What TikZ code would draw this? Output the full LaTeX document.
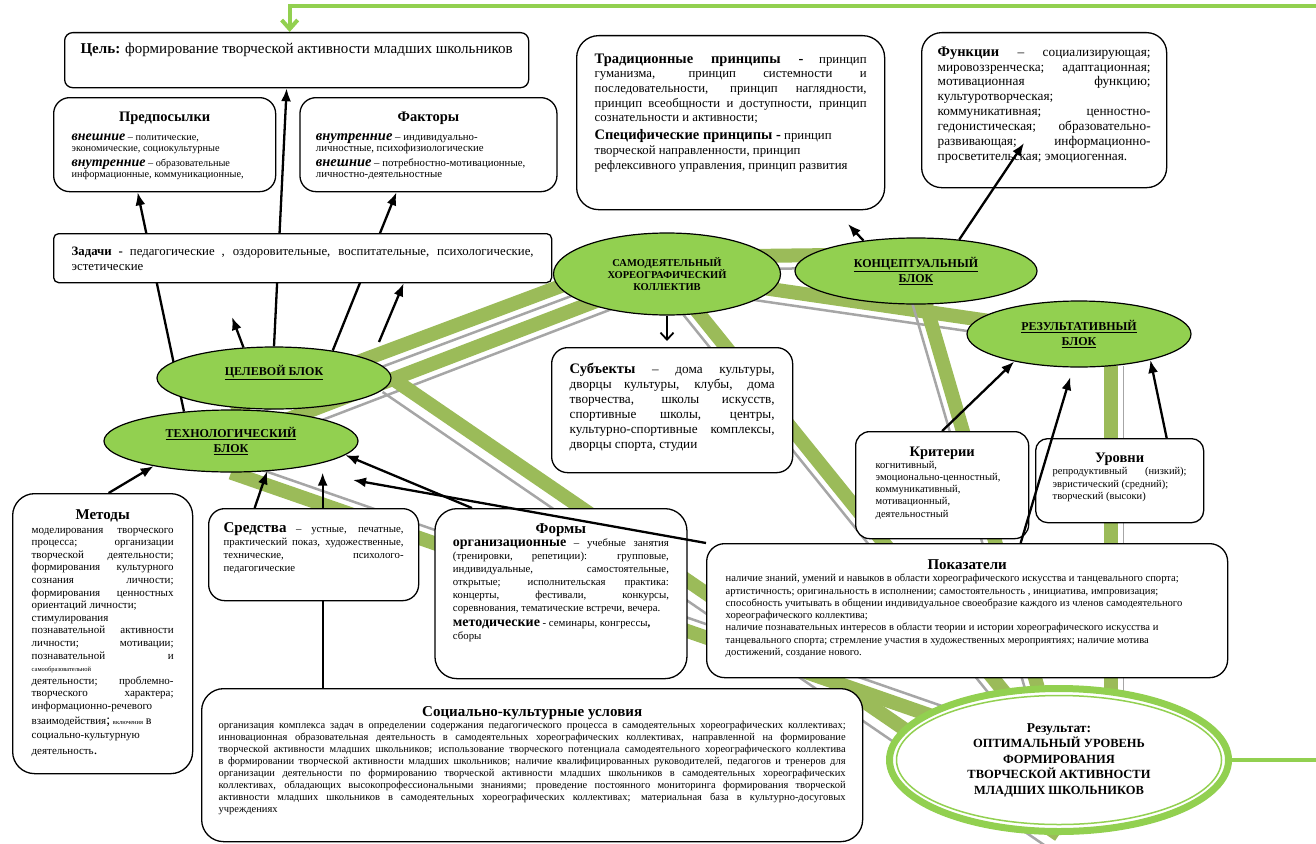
\documentclass[tikz,border=0pt]{standalone}
\usepackage{fontspec}
\setmainfont{Liberation Serif}
\usetikzlibrary{shapes.geometric,arrows,arrows.meta,positioning}
\pgfdeclarelayer{background}
\pgfdeclarelayer{links}
\pgfsetlayers{background,links,main}
\definecolor{leaf}{HTML}{92D050}
\definecolor{olive}{HTML}{9BBB59}
\definecolor{railgrey}{HTML}{A6A6A6}
\newcommand{\txtsize}[2]{\fontsize{#1}{#2}\selectfont}
\newcommand{\boxtext}[3]{\parbox[c][#2][t]{#1}{#3}}
\tolerance=10000
\hbadness=10000
\vbadness=10000

\begin{document}
\begin{tikzpicture}[x=1pt,y=-1pt,>={Latex[length=13pt,width=10pt]},
  infobox/.style={draw, line width=1.3pt, fill=white, rounded corners=16pt, anchor=north west},
  blk/.style={ellipse, draw, line width=1.2pt, fill=leaf, inner sep=0pt, align=center, font=\bfseries\txtsize{12}{15}},
  arr/.style={->, line width=2.3pt},
  band/.style={line width=14pt, olive},
  railline/.style={line width=2.5pt, railgrey},
  feedback/.style={line width=4pt, leaf}]
  \useasboundingbox (0,0) rectangle (1316,843);

  % upper boxes
  \node[infobox, rounded corners=8pt, inner xsep=10pt, inner ysep=10pt] (goal) at (64,32)
    {\boxtext{444pt}{35pt}{\centering\txtsize{15}{17}\textbf{Цель:} формирование творческой активности младших школьников}};
  \node[infobox, inner xsep=18pt, inner ysep=14pt] (prereq) at (53,97)
    {\boxtext{186pt}{66pt}{{\centering\txtsize{14.5}{16}\bfseries Предпосылки\par}\vspace{8pt}
     \txtsize{10.3}{11}{\txtsize{14}{11}\bfseries\itshape внешние} – политические,\\ экономические, социокультурные\par\vspace{4pt}
     {\txtsize{14}{11}\bfseries\itshape внутренние} – образовательные\\ информационные, коммуникационные,}};
  \node[infobox, inner xsep=16pt, inner ysep=14pt, right=23pt of prereq.north east, anchor=north west] (factors)
    {\boxtext{225pt}{66pt}{{\centering\txtsize{14.5}{16}\bfseries Факторы\par}\vspace{8pt}
     \txtsize{10.8}{11}{\txtsize{14.5}{11}\bfseries\itshape внутренние} – индивидуально-\\ личностные, психофизиологические\par\vspace{4pt}
     {\txtsize{14.5}{11}\bfseries\itshape внешние} – потребностно-мотивационные,\\ личностно-деятельностные}};
  \node[infobox, rounded corners=5pt, inner xsep=18pt, inner ysep=13pt] (tasks) at (53,233)
    {\boxtext{462pt}{23pt}{\txtsize{12.8}{15}\textbf{Задачи -} педагогические , оздоровительные, воспитательные, психологические,\linebreak эстетические}};
  \node[infobox, rounded corners=22pt, inner xsep=18pt, inner ysep=18pt] (principles) at (576,35)
    {\boxtext{272pt}{138pt}{\txtsize{12.8}{14.7}{\txtsize{14.5}{14.7}\bfseries Традиционные принципы -} принцип\linebreak гуманизма, принцип системности и\linebreak последовательности, принцип наглядности,\linebreak принцип всеобщности и доступности, принцип\linebreak сознательности и активности;\par\vspace{3pt}
     {\txtsize{14.5}{14.7}\bfseries Специфические принципы -} принцип\\ творческой направленности, принцип\\ рефлексивного управления, принцип развития}};
  \node[infobox, rounded corners=20pt, inner xsep=16pt, inner ysep=14pt] (functions) at (921,32)
    {\boxtext{213pt}{127pt}{\txtsize{13.3}{14.9}{\txtsize{14.5}{14.9}\bfseries Функции} – социализирующая;\linebreak мировоззренческа; адаптационная;\linebreak мотивационная функцию;\linebreak культуротворческая;\\ коммуникативная; ценностно-\linebreak гедонистическая; образовательно-\linebreak развивающая; информационно-\linebreak просветительская; эмоциогенная.}};

  % blocks
  \node[blk, font=\bfseries\txtsize{10.5}{12}, minimum width=227pt, minimum height=82pt] (collective) at (667,274)
    {САМОДЕЯТЕЛЬНЫЙ\\ХОРЕОГРАФИЧЕСКИЙ\\КОЛЛЕКТИВ};
  \node[blk, minimum width=242pt, minimum height=66pt] (concept) at (916,271)
    {\underline{КОНЦЕПТУАЛЬНЫЙ}\\\underline{БЛОК}};
  \node[blk, minimum width=224pt, minimum height=66pt] (resblk) at (1079,334)
    {\underline{РЕЗУЛЬТАТИВНЫЙ}\\\underline{БЛОК}};
  \node[blk, minimum width=254pt, minimum height=62pt] (tech) at (231,441)
    {\underline{ТЕХНОЛОГИЧЕСКИЙ}\\\underline{БЛОК}};
  \node[blk, minimum width=234pt, minimum height=62pt] (goalblk) at (274,378)
    {\underline{ЦЕЛЕВОЙ БЛОК}\\\mbox{}};

  % middle boxes
  \node[infobox, inner xsep=18pt, inner ysep=15pt] (subjects) at (551,347)
    {\boxtext{205pt}{95pt}{\txtsize{13.2}{15}{\txtsize{14.5}{15}\bfseries Субъекты} – дома культуры,\linebreak дворцы культуры, клубы, дома\linebreak творчества, школы искусств,\linebreak спортивные школы, центры,\linebreak культурно-спортивные комплексы,\linebreak дворцы спорта, студии}};
  \node[infobox, rounded corners=14pt, inner xsep=20pt, inner ysep=15pt] (criteria) at (855,431)
    {\boxtext{133pt}{77pt}{{\centering\txtsize{14.5}{16}\bfseries Критерии\par}
     \txtsize{10.5}{12.2}когнитивный,\\ эмоционально-ценностный,\\ коммуникативный,\\ мотивационный,\\ деятельностный}};
  \node[infobox, rounded corners=12pt, inner xsep=17pt, inner ysep=14pt] (levels) at (1035,438)
    {\boxtext{134pt}{56pt}{{\centering\txtsize{14.5}{16}\bfseries Уровни\par}
     \txtsize{10.5}{12.5}репродуктивный (низкий);\linebreak эвристический (средний);\\ творческий (высоки)}};

  % lower boxes
  \node[infobox, rounded corners=22pt, inner xsep=19pt, inner ysep=16pt] (methods) at (12,493)
    {\boxtext{142pt}{248pt}{{\centering\txtsize{15}{16}\bfseries Методы\par}\vspace{1pt}
     \txtsize{11}{12.6}моделирования творческого\linebreak процесса; организации\linebreak творческой деятельности;\linebreak формирования культурного\linebreak сознания личности;\linebreak формирования ценностных\linebreak ориентаций личности;\\ стимулирования\\ познавательной активности\linebreak личности; мотивации;\linebreak познавательной и\linebreak {\txtsize{6.5}{7}самообразовательной}\\ деятельности; проблемно-\linebreak творческого характера;\linebreak информационно-речевого\\[2pt] взаимодействия{\txtsize{14}{12.6};} {\txtsize{6.5}{7}включения} {\txtsize{12}{12.6}в}\\[2pt] социально-культурную\\[3pt] деятельность{\txtsize{14}{12.6}.}}};
  \node[infobox, inner xsep=15pt, inner ysep=14pt] (means) at (208,508)
    {\boxtext{180pt}{64pt}{\txtsize{10.8}{13}{\txtsize{15}{13}\bfseries Средства} – устные, печатные,\linebreak практический показ, художественные,\linebreak технические, психолого-\linebreak педагогические}};
  \node[infobox, rounded corners=22pt, inner xsep=18pt, inner ysep=15pt, right=15pt of means.north east, anchor=north west] (forms)
    {\boxtext{216pt}{140pt}{{\centering\txtsize{15}{16}\bfseries Формы\par}
     \txtsize{10.8}{13}{\txtsize{14}{13}\bfseries организационные} – учебные занятия\linebreak (тренировки, репетиции): групповые,\linebreak индивидуальные, самостоятельные,\linebreak открытые; исполнительская практика:\linebreak концерты, фестивали, конкурсы,\linebreak соревнования, тематические встречи, вечера.\par\vspace{2pt}
     {\txtsize{14}{13}\bfseries методические} - семинары, конгрессы{\bfseries ,}\\ сборы}};
  \node[infobox, rounded corners=18pt, inner xsep=19pt, inner ysep=16pt] (indicators) at (706,543)
    {\boxtext{483pt}{102pt}{{\centering\txtsize{15}{16}\bfseries Показатели\par}
     \txtsize{10.6}{12.3}наличие знаний, умений и навыков в области хореографического искусства и танцевального спорта;\\ артистичность; оригинальность в исполнении; самостоятельность , инициатива, импровизация;\\ способность учитывать в общении индивидуальное своеобразие каждого из членов самодеятельного\\ хореографического коллектива;\\ наличие познавательных интересов в области теории и истории хореографического искусства и\\ танцевального спорта; стремление участия в художественных мероприятиях; наличие мотива\\ достижений, создание нового.}};
  \node[infobox, rounded corners=22pt, inner xsep=17pt, inner ysep=18pt] (conditions) at (201,688)
    {\boxtext{627pt}{117pt}{{\centering\txtsize{15}{16}\bfseries Социально-культурные условия\par}
     \txtsize{10.5}{12}организация комплекса задач в определении содержания педагогического процесса в самодеятельных хореографических коллективах;\linebreak инновационная образовательная деятельность в самодеятельных хореографических коллективах, направленной на формирование\linebreak творческой активности младших школьников; использование творческого потенциала самодеятельного хореографического коллектива\linebreak в формировании творческой активности младших школьников; наличие квалифицированных руководителей, педагогов и тренеров для\linebreak организации деятельности по формированию творческой активности младших школьников в самодеятельных хореографических\linebreak коллективах, обладающих высокопрофессиональными знаниями; проведение постоянного мониторинга формирования творческой\linebreak активности младших школьников в самодеятельных хореографических коллективах; материальная база в культурно-досуговых\linebreak учреждениях}};

  % result
  \node[ellipse, draw=leaf, line width=7pt, fill=white, minimum width=339pt, minimum height=143pt, inner sep=0pt, align=center,
        font=\bfseries\txtsize{12.5}{15.5}] (result) at (1059,760)
    {{\txtsize{13.5}{15.5}Результат:}\\ОПТИМАЛЬНЫЙ УРОВЕНЬ\\ФОРМИРОВАНИЯ\\ТВОРЧЕСКОЙ АКТИВНОСТИ\\МЛАДШИХ ШКОЛЬНИКОВ};
  \node[ellipse, draw=leaf, line width=1.5pt, minimum width=325pt, minimum height=129pt] (resring) at (result) {};

  % free ends
  \coordinate (shortTip) at (232,317);
  \coordinate (tasksFoot) at (379,342);
  \coordinate (princTip) at (848,224);
  \coordinate (fnTip) at (1024,143);
  \coordinate (techTip) at (353,480);
  \coordinate (condTop) at ([xshift=-209.5pt]conditions.north);
  \coordinate (rEdge) at (1316,760);
  \coordinate (tEdge) at (1316,6);

  % bands
  \begin{pgfonlayer}{background}
    \draw[railline, transform canvas={shift={(5,12)}}] (tech.north) -- ([yshift=-14pt]collective.north);
    \draw[band] (tech.north) -- ([yshift=-14pt]collective.north);
    \draw[railline, transform canvas={shift={(5,12)}}] (tech.center) -- (collective.center);
    \draw[band] (tech.center) -- (collective.center);
    \draw[railline, transform canvas={shift={(-10,8)}}] (collective.center) -- (result.center);
    \draw[band] (collective.center) -- (result.center);
    \draw[railline, transform canvas={shift={(-2,13)}}] (collective.center) -- (resblk.center);
    \draw[band] (collective.center) -- (resblk.center);
    \draw[railline, transform canvas={shift={(0,-4)}}] (collective.center) -- (concept.center);
    \draw[band, transform canvas={shift={(0,-17)}}] (collective.center) -- (concept.center);
    \draw[railline, transform canvas={shift={(-12,4)}}] (concept.center) -- (result.center);
    \draw[band] (concept.center) -- (result.center);
    \draw[railline, line width=1pt, transform canvas={shift={(12,0)}}] (resblk.-45) -- (resblk.-45 |- result.center);
    \draw[band] (resblk.-45) -- (resblk.-45 |- result.center);
    \draw[railline, transform canvas={shift={(4,-12)}}] (tech.south) -- (result.center);
    \draw[band] (tech.south) -- (result.center);
    \draw[railline, transform canvas={shift={(-9,14)}}] (goalblk.east) -- (result.south);
    \draw[band] (goalblk.east) -- (result.south);
  \end{pgfonlayer}

  % links behind boxes
  \begin{pgfonlayer}{links}
    \path[arr]
    (tech.148) edge ([xshift=-27pt]prereq.south)
    (goalblk.north) edge ([xshift=-10pt]goal.south)
    (goalblk.25) edge ([xshift=-32pt]factors.south)
    (condTop) edge (condTop |- tech.south);
  \end{pgfonlayer}

  \path[arr]
  (goalblk.135) edge (shortTip)
  (tasksFoot) edge ([xshift=101pt]tasks.south)
  (concept.150) edge (princTip)
  (concept.36) edge (fnTip)
  (criteria.north) edge (resblk.203)
  ([xshift=53.5pt]indicators.north) edge[shorten >=10pt] (resblk.260)
  ([xshift=47pt]levels.north) edge (resblk.-20)
  ([xshift=6pt]methods.north) edge (tech.198)
  ([xshift=-59pt]means.north) edge (tech.-40)
  ([xshift=-89pt]forms.north) edge (tech.-7)
  (indicators.north west) edge (techTip);
  \draw[line width=1.8pt, -{Straight Barb[length=7pt,width=13pt]}, shorten >=6pt] (collective.south) -- (collective.south |- subjects.north);

  % feedback loop
  \draw[feedback] (result.east) -- (rEdge);
  \draw[feedback, -{Straight Barb[length=9pt,width=16pt]}] (tEdge) -| ([xshift=-7pt]goal.north);
\end{tikzpicture}
\end{document}
